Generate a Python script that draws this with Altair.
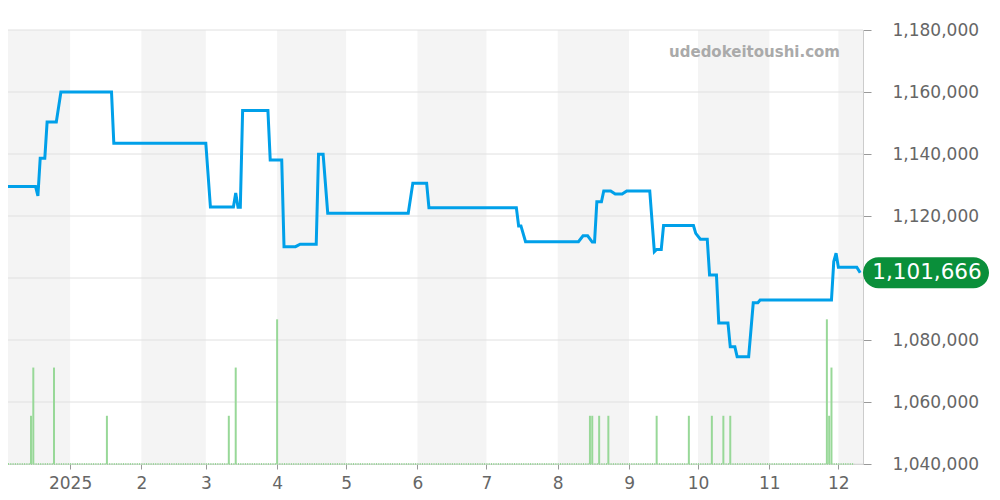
import altair as alt
import pandas as pd

# ---------------- data ----------------
line_dates = [
    "2024-12-05", "2024-12-17", "2024-12-18", "2024-12-19", "2024-12-21", "2024-12-22",
    "2024-12-26", "2024-12-28", "2025-01-19", "2025-01-20", "2025-03-01", "2025-03-03",
    "2025-03-13", "2025-03-14", "2025-03-15", "2025-03-16", "2025-03-17", "2025-03-28",
    "2025-03-29", "2025-04-03", "2025-04-04", "2025-04-09", "2025-04-11", "2025-04-18",
    "2025-04-19", "2025-04-21", "2025-04-23", "2025-05-28", "2025-05-30", "2025-06-05",
    "2025-06-06", "2025-07-14", "2025-07-15", "2025-07-16", "2025-07-18", "2025-08-10",
    "2025-08-12", "2025-08-14", "2025-08-16", "2025-08-17", "2025-08-18", "2025-08-20",
    "2025-08-21", "2025-08-24", "2025-08-26", "2025-08-29", "2025-08-31", "2025-09-10",
    "2025-09-12", "2025-09-13", "2025-09-15", "2025-09-16", "2025-09-29", "2025-09-30",
    "2025-10-02", "2025-10-05", "2025-10-06", "2025-10-09", "2025-10-10", "2025-10-14",
    "2025-10-15", "2025-10-17", "2025-10-18", "2025-10-23", "2025-10-25", "2025-10-27",
    "2025-10-28", "2025-11-28", "2025-11-29", "2025-11-30", "2025-12-01", "2025-12-09",
    "2025-12-10T12:00",
]
line_prices = [
    1129500, 1129500, 1126500, 1138600, 1138600, 1150300,
    1150300, 1160000, 1160000, 1143500, 1143500, 1122900,
    1122900, 1127400, 1122800, 1122800, 1154000, 1154000,
    1138100, 1138100, 1110100, 1110100, 1110900, 1110900,
    1139900, 1139900, 1120900, 1120900, 1130600, 1130600,
    1122700, 1122700, 1116800, 1116800, 1111700, 1111700,
    1113600, 1113600, 1111600, 1111600, 1124600, 1124600,
    1128100, 1128100, 1127100, 1127100, 1128100, 1128100,
    1108500, 1109200, 1109200, 1116900, 1116900, 1114400,
    1112500, 1112500, 1101000, 1101000, 1085500, 1085500,
    1077800, 1077800, 1074600, 1074600, 1092000, 1092000,
    1092900, 1092900, 1105300, 1108000, 1103500, 1103500,
    1101666,
]

vol_dates = [
    "2024-12-15", "2024-12-16", "2024-12-25", "2025-01-17", "2025-03-11", "2025-03-14",
    "2025-04-01", "2025-08-15", "2025-08-16", "2025-08-19", "2025-08-23", "2025-09-13",
    "2025-09-27", "2025-10-07", "2025-10-12", "2025-10-15", "2025-11-26", "2025-11-27",
    "2025-11-28",
]
vol_counts = [1, 2, 2, 1, 1, 2, 3, 1, 1, 1, 1, 1, 1, 1, 1, 1, 3, 1, 2]

band_starts = ["2024-12-01", "2025-02-01", "2025-04-01", "2025-06-01",
               "2025-08-01", "2025-10-01", "2025-12-01"]
band_ends = ["2025-01-01", "2025-03-01", "2025-05-01", "2025-07-01",
             "2025-09-01", "2025-11-01", "2026-01-01"]

price_ticks = [1040000, 1060000, 1080000, 1100000, 1120000, 1140000, 1160000, 1180000]
hidden_price_labels = [1100000]   # covered by the last-price badge in the reference
month_ticks = ["2025-%02d-01" % m for m in range(1, 13)]
baseline_range = ["2024-12-05", "2025-12-08"]
watermark = ["udedokeitoushi.com"]

# ---------------- layout ----------------
W, H = 855, 434
FONT = "DejaVu Sans"
x_domain = [alt.DateTime(year=2024, month=12, date=5),
            alt.DateTime(year=2025, month=12, date=11, hours=17)]
price_domain = [price_ticks[0], price_ticks[-1]]
vol_domain = [0, 9]


def to_dt(lst):
    return pd.to_datetime(lst, format="ISO8601")


tick_dt = [alt.DateTime(year=int(s[:4]), month=int(s[5:7]), date=1) for s in month_ticks]
x_axis = alt.Axis(
    values=tick_dt,
    labelExpr="month(datum.value) == 0 ? timeFormat(datum.value, '%Y') : timeFormat(datum.value, '%-m')",
    grid=False, tickSize=5, tickColor="#999", domainColor="#ccc",
    labelFont=FONT, labelFontSize=17, labelColor="#666", labelPadding=6,
    labelAlign="center", title=None,
)
x_scale = alt.Scale(domain=x_domain, padding=0, nice=False)


def pscale():
    return alt.Scale(domain=price_domain, zero=False, nice=False, padding=0)


def vscale():
    return alt.Scale(domain=vol_domain, nice=False, padding=0)


hide_expr = " || ".join("datum.value == %d" % v for v in hidden_price_labels)
y_label_expr = "(%s) ? '' : format(datum.value, ',.0f')" % hide_expr

price_df = pd.DataFrame({"date": to_dt(line_dates), "price": line_prices})
vol_df = pd.DataFrame({"date": to_dt(vol_dates), "count": vol_counts})
band_df = pd.DataFrame({"start": to_dt(band_starts), "end": to_dt(band_ends)})
grid_df = pd.DataFrame({"v": price_ticks})
base_df = pd.DataFrame({"start": to_dt([baseline_range[0]]),
                        "end": to_dt([baseline_range[1]]), "zero": [0]})
last_df = price_df.tail(1)
wm_df = pd.DataFrame({"t": watermark})

bands = alt.Chart(band_df).mark_rect(clip=True, color="#f4f4f4").encode(
    x=alt.X("start:T", scale=x_scale, axis=x_axis),
    x2="end:T",
    y=alt.value(0),
    y2=alt.value(H),
)

grid = alt.Chart(grid_df).mark_rule(color="#e0e0e0", strokeWidth=1).encode(
    y=alt.Y("v:Q", scale=pscale(), axis=None),
)

baseline = alt.Chart(base_df).mark_rule(color="#98d898", strokeWidth=2, strokeDash=[1, 1.3]).encode(
    x=alt.X("start:T", scale=x_scale, axis=x_axis),
    x2="end:T",
    y=alt.Y("zero:Q", scale=vscale(), axis=None),
)

bars = alt.Chart(vol_df).mark_bar(color="#98d898", width=2).encode(
    x=alt.X("date:T", scale=x_scale, axis=x_axis),
    y=alt.Y("count:Q", scale=vscale(), axis=None),
)

line = alt.Chart(price_df).mark_line(color="#00a0e9", strokeWidth=3, strokeJoin="miter", clip=True).encode(
    x=alt.X("date:T", scale=x_scale, axis=x_axis),
    y=alt.Y("price:Q", scale=pscale(),
            axis=alt.Axis(orient="right", values=price_ticks, labelExpr=y_label_expr, grid=False,
                          tickSize=8, tickColor="#999", domainColor="#ccc",
                          labelFont=FONT, labelFontSize=17, labelColor="#666",
                          labelPadding=21, title=None)),
)

pill = alt.Chart(last_df).mark_rect(color="#0a8f3a", cornerRadius=15.5, yOffset=-15.5, y2Offset=15.5).encode(
    x=alt.value(W),
    x2=alt.value(W + 126),
    y=alt.Y("price:Q", scale=pscale(), axis=None),
    y2="price:Q",
)

pill_text = alt.Chart(last_df).mark_text(color="white", font=FONT, fontSize=21.5,
                                          align="center", baseline="middle").encode(
    x=alt.value(W + 64),
    y=alt.Y("price:Q", scale=pscale(), axis=None),
    text=alt.Text("price:Q", format=",.0f"),
)

wm = alt.Chart(wm_df).mark_text(color="#aaaaaa", font=FONT, fontSize=15, fontWeight="bold",
                                align="right", baseline="alphabetic").encode(
    x=alt.value(W - 23),
    y=alt.value(27),
    text="t:N",
)

chart = alt.layer(bands, grid, baseline, bars, line, pill, pill_text, wm).resolve_scale(
    y="independent"
).properties(
    width=W, height=H,
    autosize=alt.AutoSizeParams(type="none"),
    padding={"left": 0, "top": 22, "right": 129, "bottom": 28},
).configure_view(stroke=None)

chart.save("out.html", embed_options={"renderer": "svg", "actions": False})
